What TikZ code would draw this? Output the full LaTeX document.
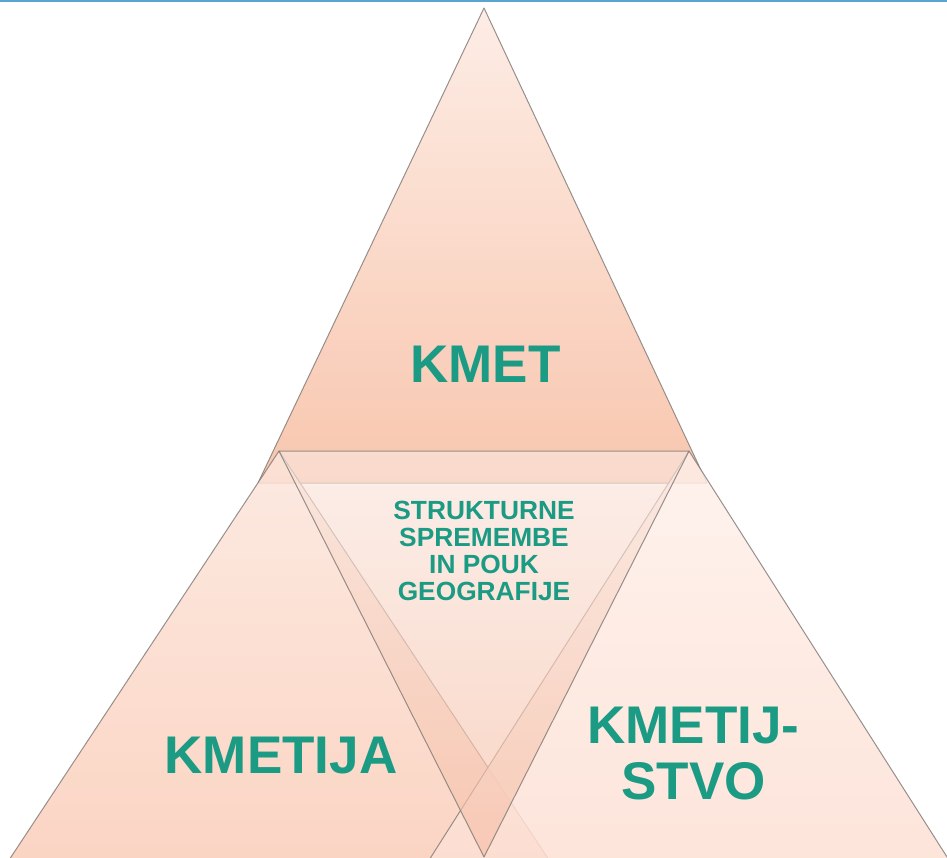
\documentclass[tikz,border=0pt]{standalone}
\usepackage{fontspec}
\setmainfont{Liberation Sans}
\definecolor{teal1}{HTML}{1B9A84}
\definecolor{edge}{HTML}{857E7A}
\definecolor{blueline}{HTML}{5BA3D1}
\definecolor{tTop}{HTML}{FDECE4}
\definecolor{tBot}{HTML}{F8C3AA}
\definecolor{lTop}{HTML}{FCE6DC}
\definecolor{lBot}{HTML}{FACDB9}
\definecolor{rTop}{HTML}{FEF0EA}
\definecolor{rBot}{HTML}{FDE0D4}
\definecolor{iTop}{HTML}{FAE6DE}
\definecolor{iBot}{HTML}{F6BEA5}
\begin{document}
\begin{tikzpicture}[x=1pt,y=1pt,
  tri/.style={draw=edge, draw opacity=0.85, line width=1pt, line join=round},
  bigtxt/.style={text=teal1, font=\fontsize{53}{56}\selectfont\bfseries, inner sep=0pt},
  smalltxt/.style={text=teal1, font=\fontsize{26.3}{27}\selectfont\bfseries, inner sep=0pt}]
\useasboundingbox (0,-857) rectangle (947,0);
% top blue rule
\fill[blueline] (0,-1.6) rectangle (947,0);
% coordinates
\coordinate (Ta) at (484,-8);
\coordinate (Tl) at (258,-483);
\coordinate (Tr) at (707,-483);
\coordinate (La) at (279,-451);
\coordinate (Ll) at (7.7,-862);
\coordinate (Lr) at (550.3,-862);
\coordinate (Ra) at (689,-451);
\coordinate (Rl) at (427.8,-862);
\coordinate (Rr) at (950.2,-862);
\coordinate (Ib) at (484,-857);
% top triangle
\shade[tri, top color=tTop, bottom color=tBot, fill opacity=0.95] (Ta) -- (Tr) -- (Tl) -- cycle;
% bottom-left triangle
\shade[tri, top color=lTop, bottom color=lBot, fill opacity=0.85] (La) -- (Lr) -- (Ll) -- cycle;
% bottom-right triangle
\shade[tri, top color=rTop, bottom color=rBot, fill opacity=0.85] (Ra) -- (Rr) -- (Rl) -- cycle;
% inverted centre triangle
\shade[tri, top color=iTop, bottom color=iBot, fill opacity=0.65] (La) -- (Ra) -- (Ib) -- cycle;
% texts
\node[bigtxt, anchor=base] (kmet) at (485.5,-382) {KMET};
\node[bigtxt, anchor=base] (kmetija) at (281,-773) {KMETIJA};
\node[bigtxt, align=center] (kmetijstvo) at (693.5,-754) {KMETIJ-\\STVO};
\node[smalltxt, align=center] (centre) at (484,-550.5) {STRUKTURNE\\SPREMEMBE\\IN POUK\\GEOGRAFIJE};
\end{tikzpicture}
\end{document}
